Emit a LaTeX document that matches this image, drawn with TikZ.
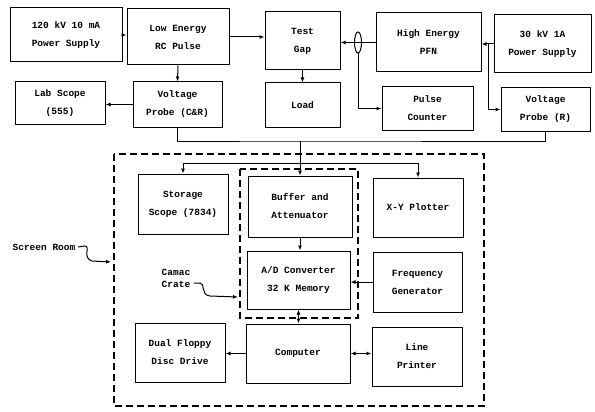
\documentclass[tikz,border=0pt]{standalone}
\usepackage{fontspec}
\setmonofont{Liberation Mono}
\usetikzlibrary{arrows.meta,shapes.geometric}

\begin{document}
\begin{tikzpicture}[x=1pt,y=-1pt,line width=1pt,
  blk/.style={draw,inner sep=0pt,align=center,font=\ttfamily\bfseries\fontsize{9.5}{18}\selectfont},
  arr/.style={-{Latex[length=5pt,width=4pt]}},
  darr/.style={{Latex[length=5pt,width=4pt]}-{Latex[length=5pt,width=4pt]}},
  room/.style={dash pattern=on 7pt off 4pt,line width=1.2pt},
  lbl/.style={inner sep=0pt,align=left,font=\ttfamily\bfseries\fontsize{9.5}{12}\selectfont}]
\path[use as bounding box] (0,0) rectangle (595,412);
\node[blk,minimum width=112,minimum height=54] (ps1) at (66,35) {120 kV 10 mA\\Power Supply};
\node[blk,minimum width=102,minimum height=56] (lowe) at (178,37) {Low Energy\\RC Pulse};
\node[blk,minimum width=75,minimum height=58] (gap) at (302.5,41) {Test\\Gap};
\node[blk,minimum width=105,minimum height=59] (pfn) at (428.5,42.5) {High Energy\\PFN};
\node[blk,minimum width=97,minimum height=58] (ps2) at (542.5,44) {30 kV 1A\\Power Supply};
\node[blk,minimum width=90,minimum height=43] (lab) at (60,103.5) {Lab Scope\\(555)};
\node[blk,minimum width=89,minimum height=45] (vpcr) at (177.5,104.5) {Voltage\\Probe (C\&R)};
\node[blk,minimum width=75,minimum height=44] (load) at (302.5,105) {Load};
\node[blk,minimum width=91,minimum height=43] (count) at (427.5,108.5) {Pulse\\Counter};
\node[blk,minimum width=89,minimum height=43] (vpr) at (545.5,109.5) {Voltage\\Probe (R)};
\node[blk,minimum width=90,minimum height=60] (scope) at (183,204) {Storage\\Scope (7834)};
\node[blk,minimum width=104,minimum height=61] (buf) at (300,206.5) {Buffer and\\Attenuator};
\node[blk,minimum width=90,minimum height=59] (xy) at (418,207.5) {X-Y Plotter};
\node[blk,minimum width=103,minimum height=58] (adc) at (298.5,280) {A/D Converter\\32 K Memory};
\node[blk,minimum width=89,minimum height=60] (freq) at (417.5,282) {Frequency\\Generator};
\node[blk,minimum width=90,minimum height=59] (floppy) at (180,352.5) {Dual Floppy\\Disc Drive};
\node[blk,minimum width=104,minimum height=59] (comp) at (298,353.5) {Computer};
\node[blk,minimum width=90,minimum height=59] (lp) at (417,356.5) {Line\\Printer};
\draw[room] (114,154) rectangle (484,406);
\draw[room] (240,169) rectangle (358,318);
\node[lbl] (sroom) at (44,247) {Screen Room};
\node[lbl] (camac) at (176,278) {Camac\\Crate};
\draw[arr] (ps1.east) -- (ps1.east -| lowe.west);
\draw[arr] (lowe.east) -- (lowe.east -| gap.west);
\draw[arr] (lowe.south) -- (vpcr.north);
\draw[arr] (vpcr.west) -- (vpcr.west -| lab.east);
\draw[arr] (gap.south) -- (load.north);
\draw[arr] (pfn.west) -- (pfn.west -| gap.east);
\node[draw,ellipse,inner sep=0pt,minimum width=7,minimum height=21] (ct) at (358,42.5) {};
\draw[arr] (ct.south) |- (count.west);
\draw[arr] (ps2.west) -- (ps2.west -| pfn.east);
\path (pfn.east) -- (ps2.west) coordinate[pos=.55] (j1);
\draw[arr] (j1) |- (vpr.west);
\coordinate (bus) at (buf.north |- 0,141);
\coordinate (bus2) at (buf.north |- 0,163);
\draw (vpcr.south) |- (bus) -| (vpr.south);
\draw[arr] (bus) -- (buf.north);
\draw[arr] (bus2) -| (scope.north);
\draw[arr] (bus2) -| (xy.north);
\draw[arr] (buf.south) -- (buf.south |- adc.north);
\draw[arr] (freq.west) -- (freq.west -| adc.east);
\draw[darr] (adc.south) -- (adc.south |- comp.north);
\draw[arr] (comp.west) -- (comp.west -| floppy.east);
\draw[darr] (comp.east) -- (comp.east -| lp.west);
\draw[arr] (sroom.east) ++(2,0) -- ++(7,-1) .. controls ++(6,0) and (82,258) .. (92,261) -- (111,262);
\draw[arr] (camac.east |- 0,283) ++(3,0) -- ++(6,0) .. controls ++(6,0) and (200,295) .. (210,296) -- (238,297);
\end{tikzpicture}
\end{document}
